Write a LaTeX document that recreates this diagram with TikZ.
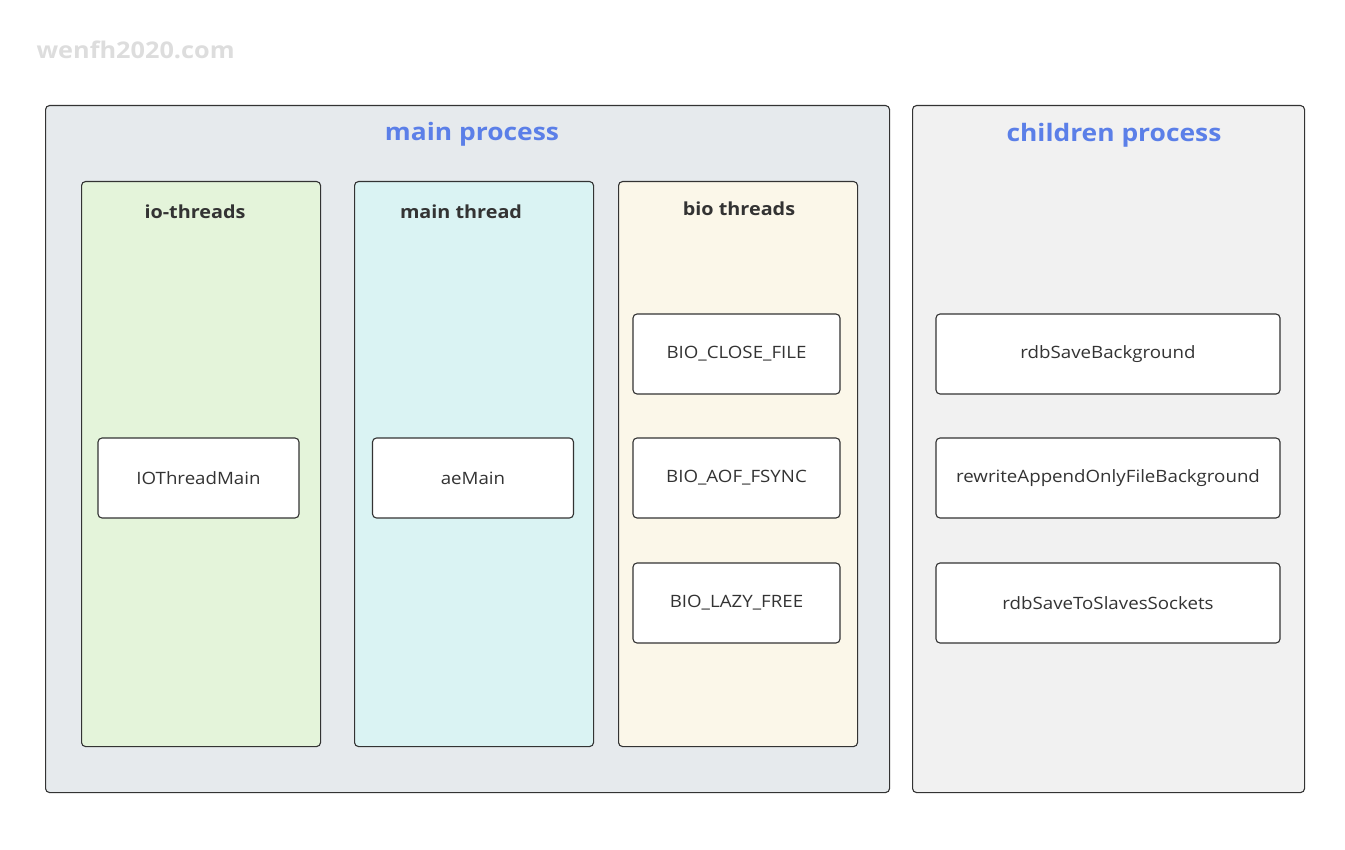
\documentclass[tikz,border=0pt]{standalone}
\usepackage{fontspec}
\setmainfont[FakeStretch=1.1]{Open Sans}
\usepackage{tikz}
\usetikzlibrary{positioning,calc}
\definecolor{mainbg}{HTML}{E6EAED}
\definecolor{childbg}{HTML}{F1F1F1}
\definecolor{iobg}{HTML}{E4F4DA}
\definecolor{mtbg}{HTML}{DAF3F3}
\definecolor{biobg}{HTML}{FBF7E9}
\definecolor{edge}{HTML}{333333}
\definecolor{titleblue}{HTML}{5B7FE8}
\definecolor{mark}{HTML}{DDDDDD}

\begin{document}
\begin{tikzpicture}
[x=1pt,y=-1pt,
box/.style={draw=edge,rounded corners=4pt,line width=1.1pt,inner sep=0pt},
proc/.style={box,anchor=north west},
thr/.style={box,anchor=north west,minimum width=239pt,minimum height=565pt},
fn/.style={box,fill=white,minimum height=80pt,font=\fontsize{17}{20}\selectfont,text=edge},
ptitle/.style={text=titleblue,font=\fontsize{24}{28}\selectfont\bfseries},
ttitle/.style={text=edge,font=\fontsize{18}{21}\selectfont\bfseries}]
\useasboundingbox (0,0) rectangle (1345,850);
\node[text=mark,font=\fontsize{23}{27}\selectfont\bfseries,anchor=west] (wm) at (33,50) {wenfh2020.com};
% processes
\node[proc,fill=mainbg,minimum width=844pt,minimum height=687pt] (mainp) at (45,105) {};
\node[proc,fill=childbg,minimum width=392pt,minimum height=687pt] (childp) at (912,105) {};
\node[ptitle] (maint) at (472,134) {main process};
\node[ptitle] (childt) at (1114,135) {children process};
% threads
\node[thr,fill=iobg] (io) at (81,181) {};
\node[thr,fill=mtbg] (mt) at (354,181) {};
\node[thr,fill=biobg] (bio) at (618,181) {};
\node[ttitle] (iot) at (195,212) {io-threads};
\node[ttitle] (mtt) at (461,212) {main thread};
\node[ttitle] (biot) at (739,209) {bio threads};
% functions
\node[fn,minimum width=201pt] (iomain) at (198.5,478) {IOThreadMain};
\node[fn,minimum width=201pt] (aemain) at (473,478) {aeMain};
\node[fn,minimum width=207pt] (close) at (736.5,354) {BIO\_CLOSE\_FILE};
\node[fn,minimum width=207pt] (fsync) at (736.5,478) {BIO\_AOF\_FSYNC};
\node[fn,minimum width=207pt] (lazy) at (736.5,603) {BIO\_LAZY\_FREE};
\node[fn,minimum width=344pt] (rdbbg) at (1108,354) {rdbSaveBackground};
\node[fn,minimum width=344pt] (aofbg) at (1108,478) {rewriteAppendOnlyFileBackground};
\node[fn,minimum width=344pt] (rdbsock) at (1108,603) {rdbSaveToSlavesSockets};
\end{tikzpicture}
\end{document}
